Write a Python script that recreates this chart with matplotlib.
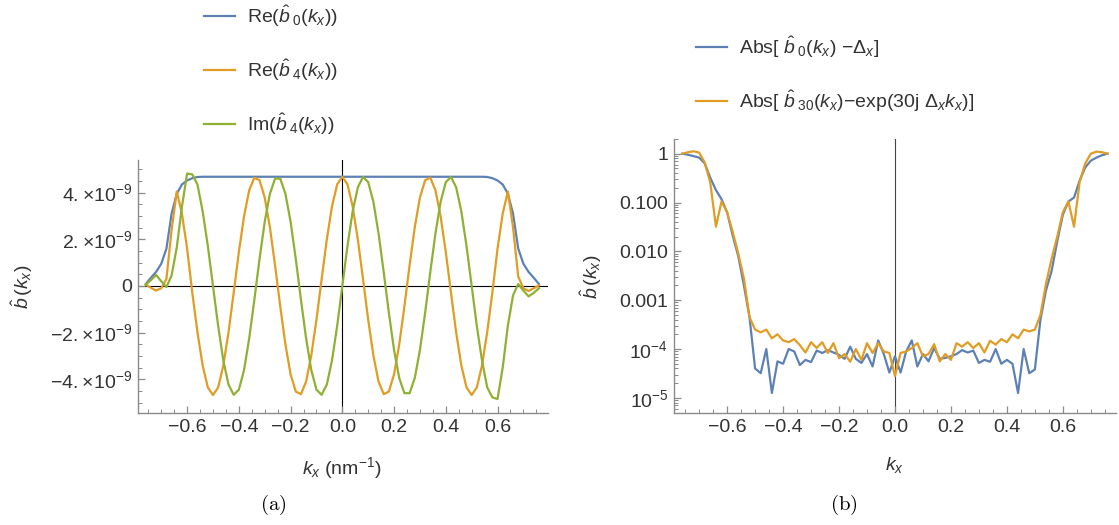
import matplotlib
matplotlib.use("Agg")
import matplotlib.pyplot as plt
from matplotlib.ticker import MultipleLocator, FixedLocator, FixedFormatter, LogLocator, NullFormatter
import numpy as np

plt.rcParams['font.family'] = ['Liberation Sans', 'DejaVu Sans']
plt.rcParams['mathtext.fontset'] = 'custom'
plt.rcParams['mathtext.rm'] = 'Liberation Sans'
plt.rcParams['mathtext.it'] = 'Liberation Sans:italic'
plt.rcParams['mathtext.bf'] = 'Liberation Sans:bold'

# colores por defecto de Mathematica
c_blue = '#5E81B5'
c_orange = '#E19C24'
c_green = '#8FB032'

# malla de kx (nm^-1), paso 0.02
kx = np.linspace(-0.76, 0.76, 77)

# panel (a): valores en unidades de 1e-9
re_b0 = [0.08, 0.35, 0.6, 0.95, 1.6, 3.1, 3.95, 4.35, 4.52, 4.62, 4.67,
         4.68, 4.68, 4.68, 4.68, 4.68, 4.68, 4.68, 4.68, 4.68, 4.68, 4.68,
         4.68, 4.68, 4.68, 4.68, 4.68, 4.68, 4.68, 4.68, 4.68, 4.68, 4.68,
         4.68, 4.68, 4.68, 4.68, 4.68, 4.68, 4.68, 4.68, 4.68, 4.68, 4.68,
         4.68, 4.68, 4.68, 4.68, 4.68, 4.68, 4.68, 4.68, 4.68, 4.68, 4.68,
         4.68, 4.68, 4.68, 4.68, 4.68, 4.68, 4.68, 4.68, 4.68, 4.68, 4.68,
         4.67, 4.62, 4.52, 4.35, 3.95, 3.1, 1.6, 0.95, 0.6, 0.35, 0.08]

re_b4 = [0.05, -0.08, -0.2, -0.1, 0.3, 2.4, 4.05, 3.1, 1.6, -0.29,
         -1.99, -3.41, -4.35, -4.68, -4.35, -3.41, -1.99, -0.29, 1.45, 2.98,
         4.10, 4.64, 4.53, 3.79, 2.51, 0.88, -0.88, -2.51, -3.79, -4.53,
         -4.64, -4.10, -2.98, -1.45, 0.29, 1.99, 3.41, 4.35, 4.68,
         4.35, 3.41, 1.99, 0.29, -1.45, -2.98, -4.10, -4.64, -4.53, -3.79,
         -2.51, -0.88, 0.88, 2.51, 3.79, 4.53, 4.64, 4.10, 2.98, 1.45,
         -0.29, -1.99, -3.41, -4.35, -4.68, -4.35, -3.41, -1.99, -0.29, 1.6,
         3.1, 4.05, 2.5, 0.4, -0.1, -0.22, -0.1, 0.02]

im_b4 = [0.05, 0.25, 0.47, 0.2, -0.05, 0.45, 1.65, 3.4, 4.82, 4.78,
         4.35, 3.20, 1.72, 0.0, -1.72, -3.20, -4.23, -4.67, -4.45, -3.61,
         -2.25, -0.59, 1.16, 2.75, 3.95, 4.60, 4.60, 3.95, 2.75, 1.16,
         -0.59, -2.25, -3.61, -4.45, -4.67, -4.23, -3.20, -1.72, 0.0,
         1.72, 3.20, 4.23, 4.67, 4.45, 3.61, 2.25, 0.59, -1.16, -2.75,
         -3.95, -4.60, -4.60, -3.95, -2.75, -1.16, 0.59, 2.25, 3.61, 4.45,
         4.67, 4.23, 3.20, 1.72, 0.0, -1.72, -3.20, -4.35, -4.78, -4.85,
         -3.5, -1.7, -0.4, 0.08, -0.2, -0.45, -0.3, -0.1]

# panel (b): errores absolutos
abs_b0 = [1.0, 0.95, 0.89, 0.83, 0.63, 0.32, 0.18, 0.117, 0.063, 0.021,
          0.0079, 0.0020, 4.5e-4, 4.0e-5, 3.2e-5, 1.0e-4, 1.26e-5, 5.6e-5, 5.0e-5, 1.0e-4,
          8.9e-5, 4.7e-5, 6.0e-5, 5.4e-5, 9.3e-5, 8.3e-5, 9.5e-5, 8.5e-5, 7.6e-5, 6.3e-5,
          1.12e-4, 6.3e-5, 5.2e-5, 7.9e-5, 4.4e-5, 1.5e-4, 7.9e-5, 3.3e-5, 7.1e-5,
          3.3e-5, 8.9e-5, 1.5e-4, 4.4e-5, 7.9e-5, 5.6e-5, 1.05e-4, 6.3e-5, 6.6e-5, 7.1e-5,
          7.9e-5, 9.5e-5, 8.5e-5, 9.3e-5, 5.2e-5, 6.0e-5, 5.5e-5, 1.0e-4, 5.0e-5, 6.0e-5,
          5.0e-5, 1.26e-5, 1.0e-4, 3.2e-5, 3.8e-5, 4.0e-4, 0.0016, 0.0040, 0.016, 0.056,
          0.105, 0.126, 0.28, 0.52, 0.72, 0.83, 0.93, 1.0]

abs_b30 = [1.0, 1.07, 1.12, 1.05, 0.66, 0.25, 0.032, 0.105, 0.063, 0.025,
           0.0089, 0.0028, 4.5e-4, 2.5e-4, 2.2e-4, 2.5e-4, 1.66e-4, 2.0e-4, 1.5e-4, 1.38e-4,
           1.6e-4, 1.2e-4, 8.5e-5, 1.38e-4, 1.05e-4, 1.38e-4, 8.3e-5, 1.32e-4, 6.5e-5, 7.9e-5,
           5.5e-5, 1.0e-4, 6.0e-5, 1.32e-4, 8.3e-5, 1.32e-4, 8.9e-5, 8.3e-5, 2.8e-5,
           8.3e-5, 8.9e-5, 1.05e-4, 1.32e-4, 7.1e-5, 7.9e-5, 1.26e-4, 5.6e-5, 7.9e-5, 6.0e-5,
           1.32e-4, 1.12e-4, 1.38e-4, 1.05e-4, 1.32e-4, 8.5e-5, 1.48e-4, 1.23e-4, 1.6e-4, 1.38e-4,
           2.0e-4, 1.66e-4, 2.5e-4, 2.3e-4, 2.5e-4, 5.0e-4, 0.0022, 0.0071, 0.020, 0.063,
           0.105, 0.032, 0.26, 0.63, 1.0, 1.10, 1.07, 1.0]

xticks = [-0.6, -0.4, -0.2, 0.0, 0.2, 0.4, 0.6]
xlabels = ['\u22120.6', '\u22120.4', '\u22120.2', '0.0', '0.2', '0.4', '0.6']
yticks_a = [-4e-9, -2e-9, 0, 2e-9, 4e-9]
ylabels_a = [r'$-4.\!\times\!10^{-9}$', r'$-2.\!\times\!10^{-9}$', '0',
             r'$2.\!\times\!10^{-9}$', r'$4.\!\times\!10^{-9}$']
yticks_b = [1e-5, 1e-4, 1e-3, 1e-2, 1e-1, 1]
ylabels_b = [r'$10^{-5}$', r'$10^{-4}$', '0.001', '0.010', '0.100', '1']

fs = 14
axis_col = '#8a8a8a'
text_col = '#333333'

fig = plt.figure(figsize=(11.19, 5.25), dpi=100)
ax1 = fig.add_axes([0.1233, 0.2133, 0.3664, 0.482])
ax2 = fig.add_axes([0.6023, 0.2133, 0.395, 0.522])

def estilo(ax):
    for s in ['top', 'right']:
        ax.spines[s].set_visible(False)
    for s in ['left', 'bottom']:
        ax.spines[s].set_color(axis_col)
        ax.spines[s].set_linewidth(1.0)
    ax.tick_params(which='both', direction='in', color=axis_col, labelcolor=text_col,
                   labelsize=fs, pad=4)
    ax.tick_params(which='major', length=5, width=0.9)
    ax.tick_params(which='minor', length=2.8, width=0.7)

# ---- panel (a)
y_b0 = np.array(re_b0) * 1e-9
y_r4 = np.array(re_b4) * 1e-9
y_i4 = np.array(im_b4) * 1e-9
l1, = ax1.plot(kx, y_b0, color=c_blue, lw=1.6, label=r'Re($\hat{b}_{\;0}(k_x)$)')
l2, = ax1.plot(kx, y_r4, color=c_orange, lw=1.6, label=r'Re($\hat{b}_{\;4}(k_x)$)')
l3, = ax1.plot(kx, y_i4, color=c_green, lw=1.6, label=r'Im($\hat{b}_{\;4}(k_x)$)')
ax1.axhline(0, color='black', lw=0.8, zorder=1)
ax1.axvline(0, color='black', lw=0.8, zorder=1)
ax1.set_xlim(-0.79, 0.795)
ax1.set_ylim(-5.45e-9, 5.4e-9)
estilo(ax1)
ax1.xaxis.set_major_locator(FixedLocator(xticks))
ax1.xaxis.set_major_formatter(FixedFormatter(xlabels))
ax1.xaxis.set_minor_locator(MultipleLocator(0.05))
ax1.yaxis.set_major_locator(FixedLocator(yticks_a))
ax1.yaxis.set_major_formatter(FixedFormatter(ylabels_a))
ax1.yaxis.set_minor_locator(MultipleLocator(0.5e-9))
ax1.set_xlabel(r'$k_x$ (nm$^{-1}$)', fontsize=fs, color=text_col)
ax1.set_ylabel(r'$\hat{b}\,(k_x)$', fontsize=fs, color=text_col)
ax1.xaxis.set_label_coords(0.4976, -0.165)
ax1.yaxis.set_label_coords(-0.25, 0.5)

fig.legend(handles=[l1, l2, l3], loc='upper left', bbox_to_anchor=(204 / 1119, 1 - 3 / 525),
           frameon=False, fontsize=fs, handlelength=1.6, handletextpad=0.6,
           labelspacing=1.45, borderpad=0, borderaxespad=0, labelcolor=text_col)

# ---- panel (b)
m1, = ax2.plot(kx, abs_b0, color=c_blue, lw=1.6,
               label=r'Abs[ $\hat{b}_{\;0}(k_x)$ $-\Delta_x$]')
m2, = ax2.plot(kx, abs_b30, color=c_orange, lw=1.6,
               label=r'Abs[ $\hat{b}_{\;30}(k_x)$$-$exp(30j $\Delta_x k_x$)]')
ax2.axvline(0, color='#444444', lw=0.8, zorder=1)
ax2.set_yscale('log')
ax2.set_xlim(-0.79, 0.79)
ax2.set_ylim(4.9e-6, 2.0)
estilo(ax2)
ax2.xaxis.set_major_locator(FixedLocator(xticks))
ax2.xaxis.set_major_formatter(FixedFormatter(xlabels))
ax2.xaxis.set_minor_locator(MultipleLocator(0.05))
ax2.yaxis.set_major_locator(FixedLocator(yticks_b))
ax2.yaxis.set_major_formatter(FixedFormatter(ylabels_b))
ax2.yaxis.set_minor_locator(LogLocator(base=10, subs=np.arange(2, 10), numticks=20))
ax2.yaxis.set_minor_formatter(NullFormatter())
ax2.set_xlabel(r'$k_x$', fontsize=fs, color=text_col)
ax2.set_ylabel(r'$\hat{b}\,(k_x)$', fontsize=fs, color=text_col)
ax2.xaxis.set_label_coords(0.5, -0.155)
ax2.yaxis.set_label_coords(-0.158, 0.496)

fig.legend(handles=[m1, m2], loc='upper left', bbox_to_anchor=(696 / 1119, 1 - 34 / 525),
           frameon=False, fontsize=fs, handlelength=1.6, handletextpad=0.6,
           labelspacing=1.45, borderpad=0, borderaxespad=0, labelcolor=text_col)

# etiquetas de subfigura
fig.text(273 / 1119, 1 - 505 / 525, r'$\mathrm{(a)}$', math_fontfamily='cm',
         fontsize=15, ha='center', va='center')
fig.text(844 / 1119, 1 - 505 / 525, r'$\mathrm{(b)}$', math_fontfamily='cm',
         fontsize=15, ha='center', va='center')

fig.savefig('out.png', dpi=100)
